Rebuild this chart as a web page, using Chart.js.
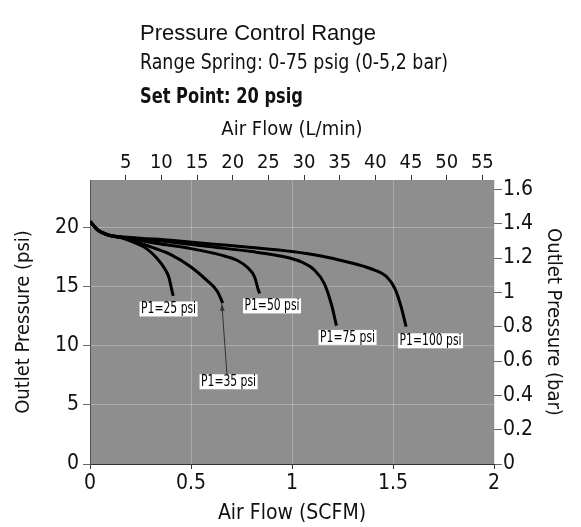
<!DOCTYPE html>
<html>
<head>
<meta charset="utf-8">
<script src="https://cdn.jsdelivr.net/npm/chart.js@4.4.1/dist/chart.umd.min.js"></script>
<style>
  html, body { margin: 0; padding: 0; background: #fff; }
</style>
</head>
<body>
<canvas id="chart" width="581" height="527"></canvas>
<script>
const NARROW = '"Liberation Sans Narrow", "Arial Narrow", "DejaVu Sans Condensed", sans-serif'
const PSI_TO_BAR = 0.0689476
const SCFM_TO_LPM = 28.3168

// tick labels
const flowTicks = [0, 0.5, 1, 1.5, 2]
const litreTicks = [5, 10, 15, 20, 25, 30, 35, 40, 45, 50, 55]
const psiTicks = [0, 5, 10, 15, 20]
const barTicks = [0, 0.2, 0.4, 0.6, 0.8, 1, 1.2, 1.4, 1.6]

// curves (x = SCFM, y = psi)
const p25Flow = [0, 0.04, 0.09, 0.16, 0.22, 0.28, 0.33, 0.37, 0.39, 0.405, 0.412]
const p25Psi  = [20.5, 19.75, 19.35, 19.1, 18.7, 18.2, 17.4, 16.5, 15.8, 14.7, 14.2]

const p35Flow = [0, 0.04, 0.09, 0.18, 0.3, 0.4, 0.5, 0.58, 0.63, 0.657]
const p35Psi  = [20.5, 19.75, 19.35, 19.05, 18.35, 17.7, 16.65, 15.5, 14.6, 13.6]

const p50Flow = [0, 0.04, 0.09, 0.2, 0.35, 0.5, 0.65, 0.73, 0.78, 0.815, 0.83, 0.84]
const p50Psi  = [20.5, 19.75, 19.35, 19.05, 18.6, 18.2, 17.65, 17.2, 16.6, 15.8, 14.9, 14.4]

const p75Flow = [0, 0.04, 0.09, 0.2, 0.4, 0.6, 0.8, 0.95, 1.05, 1.11, 1.16, 1.195, 1.22]
const p75Psi  = [20.5, 19.75, 19.35, 19.1, 18.75, 18.35, 17.95, 17.55, 17.05, 16.4, 15.25, 13.5, 11.7]

const p100Flow = [0, 0.04, 0.09, 0.2, 0.4, 0.6, 0.8, 1.0, 1.15, 1.28, 1.39, 1.47, 1.51, 1.54, 1.565]
const p100Psi  = [20.5, 19.75, 19.35, 19.15, 18.9, 18.6, 18.3, 17.95, 17.55, 17.05, 16.5, 15.8, 14.8, 13.3, 11.6]

// curve labels (box centre, in SCFM / psi)
const labelText = ['P1=25 psi', 'P1=35 psi', 'P1=50 psi', 'P1=75 psi', 'P1=100 psi']
const labelFlow = [0.389, 0.686, 0.901, 1.275, 1.686]
const labelPsi  = [13.1, 6.95, 13.36, 10.7, 10.41]

// arrow from the P1=35 label up to its curve
const arrowFlow = [0.678, 0.653]
const arrowPsi  = [7.6, 13.5]

function toPoints(xs, ys) {
    return xs.map((x, i) => ({ x: x, y: ys[i] }))
}

function curve(xs, ys) {
    return {
        data: toPoints(xs, ys),
        borderColor: '#000',
        borderWidth: 3,
        pointRadius: 0,
        cubicInterpolationMode: 'monotone',
        xAxisID: 'x',
        yAxisID: 'y'
    }
}

// draw text squeezed horizontally so the wide fallback font looks condensed
function narrowText(ctx, text, x, y, squeeze) {
    ctx.save()
    ctx.translate(x, y)
    ctx.scale(squeeze, 1)
    ctx.fillText(text, 0, 0)
    ctx.restore()
}

const plotBackground = {
    id: 'plotBackground',
    beforeDraw(chart) {
        const { ctx, chartArea: a } = chart
        ctx.save()
        ctx.fillStyle = '#8e8e8e'
        ctx.fillRect(a.left, a.top, a.width, a.height)
        ctx.restore()
    }
}

const header = {
    id: 'header',
    afterDraw(chart) {
        const ctx = chart.ctx
        ctx.save()
        ctx.fillStyle = '#111'
        ctx.textAlign = 'left'
        ctx.textBaseline = 'alphabetic'
        ctx.font = '22px "Liberation Sans", Arial, sans-serif'
        ctx.fillText('Pressure Control Range', 140, 40)
        ctx.font = '22px ' + NARROW
        narrowText(ctx, 'Range Spring: 0-75 psig (0-5,2 bar)', 140, 69, 0.88)
        ctx.font = 'bold 22px ' + NARROW
        narrowText(ctx, 'Set Point: 20 psig', 140, 102.5, 0.82)
        ctx.restore()
    }
}

const curveLabels = {
    id: 'curveLabels',
    afterDatasetsDraw(chart) {
        const { ctx, scales } = chart
        const sx = scales.x, sy = scales.y
        ctx.save()

        // arrow
        const x0 = sx.getPixelForValue(arrowFlow[0]), y0 = sy.getPixelForValue(arrowPsi[0])
        const x1 = sx.getPixelForValue(arrowFlow[1]), y1 = sy.getPixelForValue(arrowPsi[1])
        ctx.strokeStyle = '#333'
        ctx.lineWidth = 1
        ctx.beginPath()
        ctx.moveTo(x0, y0)
        ctx.lineTo(x1, y1)
        ctx.stroke()
        const ang = Math.atan2(y1 - y0, x1 - x0)
        ctx.fillStyle = '#333'
        ctx.beginPath()
        ctx.moveTo(x1, y1)
        ctx.lineTo(x1 - 7 * Math.cos(ang - 0.35), y1 - 7 * Math.sin(ang - 0.35))
        ctx.lineTo(x1 - 7 * Math.cos(ang + 0.35), y1 - 7 * Math.sin(ang + 0.35))
        ctx.closePath()
        ctx.fill()

        const squeeze = 0.8
        ctx.font = '15px ' + NARROW
        ctx.textAlign = 'center'
        ctx.textBaseline = 'middle'
        labelText.forEach((t, i) => {
            const cx = sx.getPixelForValue(labelFlow[i])
            const cy = sy.getPixelForValue(labelPsi[i])
            const w = ctx.measureText(t).width * squeeze + 3
            ctx.fillStyle = '#fff'
            ctx.fillRect(cx - w / 2, cy - 7.5, w, 15)
            ctx.fillStyle = '#000'
            narrowText(ctx, t, cx, cy + 0.5, squeeze)
        })
        ctx.restore()
    }
}

function fixedTicks(list) {
    return scale => { scale.ticks = list.map(v => ({ value: v })) }
}

const tickFont = { family: NARROW, size: 21, lineHeight: 1 }
const topTickFont = { family: NARROW, size: 20, lineHeight: 1 }

new Chart(document.getElementById('chart'), {
    type: 'line',
    data: {
        datasets: [
            curve(p25Flow, p25Psi),
            curve(p35Flow, p35Psi),
            curve(p50Flow, p50Psi),
            curve(p75Flow, p75Psi),
            curve(p100Flow, p100Psi)
        ]
    },
    options: {
        responsive: false,
        animation: false,
        layout: { padding: { top: 110 } },
        plugins: {
            legend: { display: false },
            tooltip: { enabled: false }
        },
        scales: {
            x: {
                type: 'linear',
                position: 'bottom',
                min: 0,
                max: 2,
                afterBuildTicks: fixedTicks(flowTicks),
                afterFit: s => { s.height = 63 },
                ticks: { font: tickFont, color: '#111', padding: 4, maxRotation: 0, callback: v => String(v) },
                grid: { color: 'rgba(200,200,200,0.5)', tickColor: '#333', tickLength: 5 },
                border: { color: '#333' },
                title: { display: true, text: 'Air Flow (SCFM)', font: { family: NARROW, size: 21 }, color: '#111', padding: { top: 0, bottom: 1 } }
            },
            xTop: {
                type: 'linear',
                position: 'top',
                min: 0,
                max: 2 * SCFM_TO_LPM,
                afterBuildTicks: fixedTicks(litreTicks),
                afterFit: s => { s.height = 70 },
                ticks: { font: topTickFont, color: '#111', padding: 2, maxRotation: 0, callback: v => String(v) },
                grid: { drawOnChartArea: false, tickColor: '#333', tickLength: 5 },
                border: { display: false },
                title: { display: true, text: 'Air Flow (L/min)', font: { family: NARROW, size: 20 }, color: '#111', padding: { top: 8, bottom: 0 } }
            },
            y: {
                type: 'linear',
                position: 'left',
                min: 0,
                max: 24,
                afterBuildTicks: fixedTicks(psiTicks),
                afterFit: s => { s.width = 90 },
                ticks: { font: tickFont, color: '#111', padding: 4, callback: v => String(v) },
                grid: { color: 'rgba(200,200,200,0.5)', tickColor: '#666', tickLength: 7 },
                border: { color: '#555' },
                title: { display: true, text: 'Outlet Pressure (psi)', font: { family: NARROW, size: 20 }, color: '#111', padding: { top: 12, bottom: 0 } }
            },
            yBar: {
                type: 'linear',
                position: 'right',
                min: 0,
                max: 24 * PSI_TO_BAR,
                afterBuildTicks: fixedTicks(barTicks),
                afterFit: s => { s.width = 87 },
                ticks: { font: tickFont, color: '#111', padding: 1, callback: v => String(v) },
                grid: { drawOnChartArea: false, tickColor: '#666', tickLength: 8 },
                border: { display: false },
                title: { display: true, text: 'Outlet Pressure (bar)', font: { family: NARROW, size: 20 }, color: '#111', padding: { top: 16, bottom: 0 } }
            }
        }
    },
    plugins: [plotBackground, header, curveLabels]
})
</script>
</body>
</html>
